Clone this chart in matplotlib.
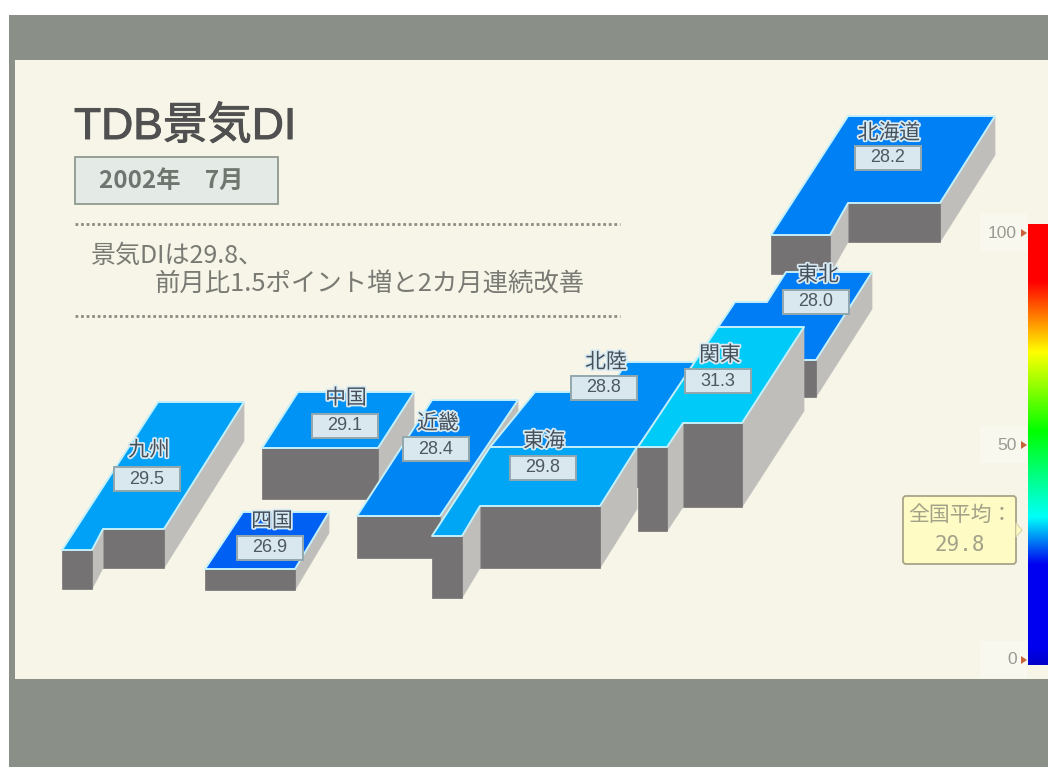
import numpy as np
import matplotlib
matplotlib.use("Agg")
import matplotlib.pyplot as plt
import matplotlib.patheffects as pe
from matplotlib.colors import LinearSegmentedColormap
from matplotlib.patches import Polygon, Rectangle, FancyBboxPatch

JP = ["Noto Sans CJK JP", "DejaVu Sans"]
plt.rcParams["font.family"] = JP

# DI by region
region_names = ["九州", "四国", "中国", "近畿", "北海道", "東北", "北陸", "東海", "関東"]
region_values = [29.5, 26.9, 29.1, 28.4, 28.2, 28.0, 28.8, 29.8, 31.3]
national_average = 29.8

# Stylised map: block outlines (clockwise, in canvas pixels) and block heights
region_outlines = [
    [(158, 402), (244, 402), (164, 529), (103, 529), (92, 550), (62, 550)],
    [(243, 512), (329, 512), (295, 569), (205, 569)],
    [(298, 392), (414, 392), (378, 448), (262, 448)],
    [(432, 400), (518, 400), (440, 516), (357, 516)],
    [(848, 116), (995, 116), (940, 203), (848, 203), (830, 235), (771, 235)],
    [(735, 302), (767, 302), (786, 272), (872, 272), (816, 360), (696, 360)],
    [(535, 392), (607, 392), (627, 362), (697, 362), (638, 447), (490, 447)],
    [(490, 447), (637, 447), (600, 506), (480, 506), (462, 536), (432, 536)],
    [(718, 327), (804, 327), (742, 423), (683, 423), (667, 447), (638, 447)],
]
region_heights = [39, 21, 51, 42, 39, 37, 40, 62, 84]
name_centers = [(149, 450), (272, 521), (346, 398), (438, 423), (889, 133),
                (818, 275), (606, 362), (544, 441), (720, 355)]
box_centers = [(147, 479), (270, 548), (345, 426), (436, 449), (888, 158),
               (816, 302), (604, 388), (543, 468), (718, 381)]

# Colour scale
scale_stops = [(0, (0, 0, 200)), (4, (0, 0, 240)), (22.8, (0, 0, 240)),
               (33.5, (0, 255, 250)), (53, (0, 255, 0)), (71, (255, 255, 0)),
               (87, (255, 0, 0)), (100, (255, 0, 0))]
scale_ticks = [100, 50, 0]
scale_tick_y = [233, 445, 660]

cmap = LinearSegmentedColormap.from_list(
    "di", [(v / 100, tuple(c / 255 for c in rgb)) for v, rgb in scale_stops], N=512)

GREY_BAND = "#8a9088"
PANEL = "#f6f5e8"
SIDE = "#c0beba"
FRONT = "#757274"
EDGE = "#c4f0fb"

fig = plt.figure(figsize=(10.48, 7.67), dpi=100, facecolor="white")
ax = fig.add_axes([0, 0, 1, 1])

# Page frame
ax.add_patch(Rectangle((9, 15), 1039, 752, fc=GREY_BAND, ec="none", zorder=0))
ax.add_patch(Rectangle((15, 60), 1033, 619, fc=PANEL, ec="none", zorder=0.5))

# Heading block
ax.text(74, 127, "TDB景気DI", fontsize=32, color="#505050", va="center", ha="left",
        family=["Liberation Sans", "Noto Sans CJK JP"],
        path_effects=[pe.withStroke(linewidth=0.7, foreground="#505050")])
ax.add_patch(Rectangle((75, 157), 203, 47, fc="#e4ebe6", ec="#8f9a90", lw=1.3, zorder=1))
ax.text(99, 181, "2002年　7月", fontsize=17.5, color="#6e766f", va="center", ha="left",
        fontweight="bold", zorder=2)
for y in (224, 316):
    ax.plot([75, 620], [y, y], color="#8c8c84", lw=2, ls=(0, (1, 1)), zorder=1)
ax.text(91, 256, "景気DIは29.8、", fontsize=18, color="#7a7a74", va="center", ha="left")
ax.text(155, 285, "前月比1.5ポイント増と2カ月連続改善", fontsize=18.3, color="#7a7a74",
        va="center", ha="left")


def draw_block(outline, height, value, z):
    """Extrude an outline downward and paint the faces that look at the viewer."""
    pts = np.asarray(outline, dtype=float)
    drop = np.array([0, height])
    for a, b in zip(pts, np.roll(pts, -1, axis=0)):
        if b[0] < a[0]:
            color = FRONT if a[1] == b[1] else SIDE
            ax.add_patch(Polygon([a, b, b + drop, a + drop], closed=True, fc=color,
                                 ec=color, lw=0.5, zorder=z))
    ax.add_patch(Polygon(pts, closed=True, fc=cmap(value / 100), ec=EDGE, lw=1.4,
                         joinstyle="round", zorder=z + 0.1))


for i, (outline, height, value) in enumerate(zip(region_outlines, region_heights, region_values)):
    draw_block(outline, height, value, 2 + i)

# Region captions and value plates
halo = [pe.withStroke(linewidth=2.5, foreground="#d8eaf2")]
for name, value, nc, bc in zip(region_names, region_values, name_centers, box_centers):
    ax.add_patch(Rectangle((bc[0] - 33, bc[1] - 12), 66, 24, fc="#d8e8ee", ec="#92a8ae",
                           lw=1.4, zorder=20))
    ax.text(bc[0], bc[1], f"{value:.1f}", fontsize=13, color="#4e5860", ha="center",
            va="center", family=["Liberation Sans", "DejaVu Sans"], zorder=21)
    ax.text(nc[0], nc[1], name, fontsize=15, color="#46505c", ha="center", va="center",
            path_effects=halo, zorder=22)

# Colour scale with its ticks
gradient = np.linspace(100, 0, 512).reshape(-1, 1)
ax.imshow(gradient, cmap=cmap, vmin=0, vmax=100, extent=(1028, 1048, 665, 224),
          aspect="auto", zorder=3)
for tick, y in zip(scale_ticks, scale_tick_y):
    ax.add_patch(Rectangle((980, y - 19), 47, 37, fc="#f9f8ef", ec="none", zorder=1))
    ax.text(1017, y, str(tick), fontsize=12.5, color="#9a9a94", ha="right", va="center",
            family=["Liberation Sans", "DejaVu Sans"], zorder=4)
    ax.add_patch(Polygon([(1021, y - 4), (1027, y), (1021, y + 4)], closed=True,
                         fc="#c8643c", ec="none", zorder=4))

# National average call-out
ax.add_patch(FancyBboxPatch((905, 498), 109, 64, boxstyle="round,pad=2,rounding_size=3",
                            fc="#fffbc4", ec="#a8a488", lw=1.3, zorder=5))
ax.add_patch(Polygon([(1016, 523), (1022, 530), (1016, 537)], closed=True,
                     fc="#fffbc4", ec="#d8d4a8", lw=0.8, zorder=5))
ax.text(960, 515, "全国平均：", fontsize=15, color="#a2a288", ha="center", va="center", zorder=6)
ax.text(960, 545, f"{national_average:.1f}", fontsize=15, color="#a2a288", ha="center",
        va="center", family=["DejaVu Sans Mono"], zorder=6)

ax.set_xlim(0, 1048)
ax.set_ylim(767, 0)
ax.axis("off")
fig.savefig("out.png", dpi=100, facecolor="white")
